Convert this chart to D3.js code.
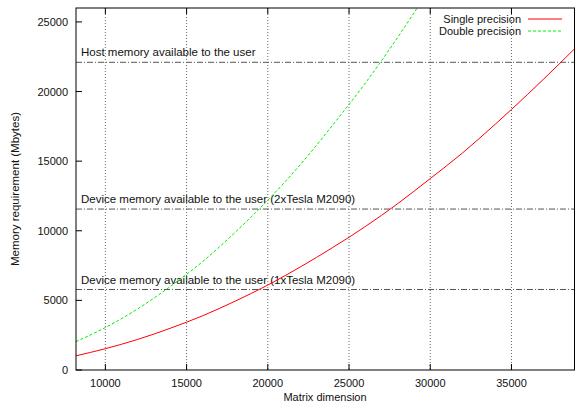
<!DOCTYPE html>
<html><head><meta charset="utf-8">
<script src="https://cdn.jsdelivr.net/npm/d3@7"></script>
<style>body{margin:0;background:#fff;} text{font-family:"Liberation Sans",Arial,sans-serif;}</style>
</head><body>
<svg id="c" width="575" height="403"></svg>
<script>
const dims = [8192,10000,12000,14000,16000,18000,20000,22000,24000,26000,28000,30000,32000,34000,36000,38000,38912];
const single = [1020,1530,2200,3000,3900,4950,6100,7400,8800,10300,11950,13750,15600,17650,19800,22050,23100];
const dimsD = [8192,10000,12000,14000,16000,18000,20000,22000,24000,26000,28000,29000,30000];
const double = [2040,3050,4400,6000,7800,9900,12200,14750,17600,20600,23900,25650,27450];
const xTicks = [10000,15000,20000,25000,30000,35000];
const yTicks = [0,5000,10000,15000,20000,25000];
const limits = [
  {label:"Host memory available to the user", value:22100},
  {label:"Device memory available to the user (2xTesla M2090)", value:11560},
  {label:"Device memory available to the user (1xTesla M2090)", value:5780}
];
const seriesNames = ["Single precision","Double precision"];

const svg = d3.select("#c");
const L=76,R=575,T=8,B=370;
const x = d3.scaleLinear().domain([8192,38912]).range([L,R]);
const y = d3.scaleLinear().domain([0,26000]).range([B,T]);

svg.append("defs").append("clipPath").attr("id","clip").append("rect")
  .attr("x",L).attr("y",T).attr("width",R-L).attr("height",B-T);

// vertical grid
svg.append("g").selectAll("line").data(xTicks).join("line")
  .attr("x1",d=>x(d)).attr("x2",d=>x(d)).attr("y1",T).attr("y2",B)
  .attr("stroke","#000").attr("stroke-width",0.6).attr("stroke-dasharray","1,2");

// limit lines
svg.append("g").selectAll("line").data(limits).join("line")
  .attr("x1",L).attr("x2",R).attr("y1",d=>y(d.value)).attr("y2",d=>y(d.value))
  .attr("stroke","#555").attr("stroke-width",1).attr("stroke-dasharray","6,2,1,2");
svg.append("g").selectAll("text").data(limits).join("text")
  .attr("x",81).attr("y",d=>y(d.value)-6).attr("font-size",11.5).attr("fill","#111")
  .text(d=>d.label);

const line = d3.line().curve(d3.curveMonotoneX);
const g = svg.append("g").attr("clip-path","url(#clip)");
g.append("path").attr("d",line(dims.map((d,i)=>[x(d),y(single[i])])))
  .attr("fill","none").attr("stroke","#ff0000").attr("stroke-width",1);
g.append("path").attr("d",line(dimsD.map((d,i)=>[x(d),y(double[i])])))
  .attr("fill","none").attr("stroke","#00ee00").attr("stroke-width",1).attr("stroke-dasharray","3,2");

// frame
svg.append("rect").attr("x",L).attr("y",T).attr("width",R-L-0.5).attr("height",B-T)
  .attr("fill","none").attr("stroke","#000").attr("stroke-width",1);

// ticks
const tk = svg.append("g").attr("stroke","#000").attr("stroke-width",1);
xTicks.forEach(d=>{
  tk.append("line").attr("x1",x(d)).attr("x2",x(d)).attr("y1",B).attr("y2",B-6);
  tk.append("line").attr("x1",x(d)).attr("x2",x(d)).attr("y1",T).attr("y2",T+6);
});
yTicks.forEach(d=>{
  tk.append("line").attr("x1",L).attr("x2",L+6).attr("y1",y(d)).attr("y2",y(d));
});
svg.append("g").selectAll("text").data(xTicks).join("text")
  .attr("x",d=>x(d)).attr("y",387).attr("text-anchor","middle").attr("font-size",11).attr("fill","#111")
  .text(d=>d);
svg.append("g").selectAll("text").data(yTicks).join("text")
  .attr("x",68).attr("y",d=>y(d)+4).attr("text-anchor","end").attr("font-size",11).attr("fill","#111")
  .text(d=>d);

svg.append("text").attr("x",325).attr("y",401).attr("text-anchor","middle").attr("font-size",11).attr("fill","#111")
  .text("Matrix dimension");
svg.append("text").attr("transform","translate(19,189) rotate(-90)").attr("text-anchor","middle")
  .attr("font-size",11.5).attr("fill","#111").text("Memory requirement (Mbytes)");

// legend
const lg = svg.append("g");
seriesNames.forEach((n,i)=>{
  const yy = 19 + i*12;
  lg.append("text").attr("x",521).attr("y",yy+4).attr("text-anchor","end").attr("font-size",11).attr("fill","#111").text(n);
  lg.append("line").attr("x1",528).attr("x2",562).attr("y1",yy).attr("y2",yy)
    .attr("stroke",i===0?"#ff0000":"#00ee00").attr("stroke-width",1)
    .attr("stroke-dasharray",i===0?null:"3,2");
});
</script>
</body></html>
